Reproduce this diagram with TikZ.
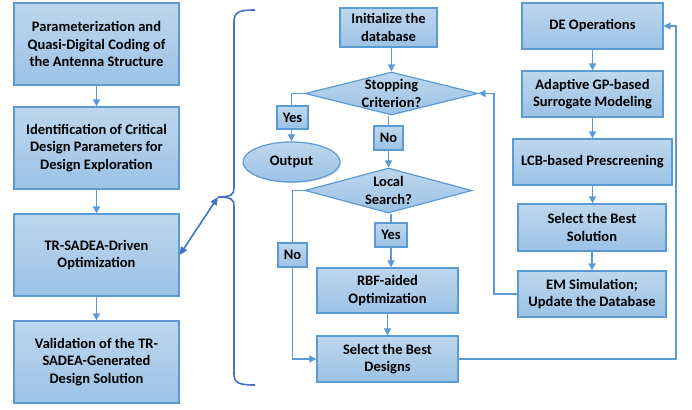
\documentclass[tikz,border=0pt]{standalone}
\usepackage{fontspec}
\setmainfont{Carlito}
\usetikzlibrary{arrows.meta,shapes.geometric,backgrounds,shadows}
\definecolor{boxtop}{HTML}{BDD7EE}
\definecolor{boxbot}{HTML}{9CC2E5}
\definecolor{boxline}{HTML}{5B9BD5}
\definecolor{conn}{HTML}{5B9BD5}
\definecolor{brace}{HTML}{4472C4}
\tikzset{
  txt/.style={font=\fontsize{14.5}{17.7}\selectfont\bfseries, text=black, align=center},
  sbox/.style={txt, draw=boxline, line width=1.2pt, top color=boxtop, bottom color=boxbot,
     inner sep=0pt, drop shadow={opacity=0.25, shadow xshift=1.2pt, shadow yshift=-1.2pt}},
  lbl/.style={sbox, drop shadow={opacity=0}},
  dia/.style={shape=diamond, draw=boxline, line width=1.2pt, top color=boxtop, bottom color=boxbot, inner sep=0pt},
  ell/.style={shape=ellipse, sbox},
  flow/.style={draw=conn, line width=1.6pt, -{Triangle[length=7pt,width=7pt]}},
  line/.style={draw=conn, line width=1.6pt},
  brc/.style={draw=brace, line width=1.6pt},
}
\begin{document}
\begin{tikzpicture}[x=1pt,y=-1pt]
\useasboundingbox (0,0) rectangle (692,409);
% left column
\node[sbox, minimum width=165pt, minimum height=82pt] (p1) at (96.5,44) {Parameterization and\\Quasi-Digital Coding of\\the Antenna Structure};
\node[sbox, minimum width=165pt, minimum height=82pt] (p2) at (96.5,148) {Identification of Critical\\Design Parameters for\\Design Exploration};
\node[sbox, minimum width=165pt, minimum height=82pt] (p3) at (96.5,255) {TR-SADEA-Driven\\Optimization};
\node[sbox, minimum width=165pt, minimum height=82pt] (p4) at (96.5,362) {Validation of the TR-\\SADEA-Generated\\Design Solution};
% middle column
\node[sbox, minimum width=97pt, minimum height=39pt] (init) at (388.5,27.5) {Initialize the\\database};
\node[dia, minimum width=173pt, minimum height=43pt, label={[txt]center:Stopping\\Criterion?}] (stop) at (391.5,93.5) {};
\node[ell, minimum width=97pt, minimum height=40pt] (out) at (291.5,162) {Output};
\node[dia, minimum width=167pt, minimum height=45pt, label={[txt]center:Local\\Search?}] (loc) at (388.5,190.5) {};
\node[sbox, minimum width=141pt, minimum height=45pt] (rbf) at (387.5,290.5) {RBF-aided\\Optimization};
\node[sbox, minimum width=141pt, minimum height=46pt] (seld) at (387.5,359) {Select the Best\\Designs};
\node[lbl, minimum width=31pt, minimum height=23pt] (yes1) at (292.5,117.5) {Yes};
\node[lbl, minimum width=29pt, minimum height=24pt] (no1) at (388.5,138) {No};
\node[lbl, minimum width=29pt, minimum height=24pt] (no2) at (292.5,255) {No};
\node[lbl, minimum width=32pt, minimum height=24pt] (yes2) at (391,235) {Yes};
% right column
\node[sbox, minimum width=141pt, minimum height=46pt] (de) at (592.5,26) {DE Operations};
\node[sbox, minimum width=141pt, minimum height=46pt] (gp) at (592.5,94) {Adaptive GP-based\\Surrogate Modeling};
\node[sbox, minimum width=159pt, minimum height=46pt] (lcb) at (592.5,162) {LCB-based Prescreening};
\node[sbox, minimum width=148pt, minimum height=47pt] (sels) at (592,227.5) {Select the Best\\Solution};
\node[sbox, minimum width=148pt, minimum height=46pt] (em) at (592,294) {EM Simulation;\\Update the Database};
\coordinate (rt) at (676,0);
\coordinate (lt) at (494,0);
\coordinate (btip) at (218,197);
\begin{pgfonlayer}{background}
\draw[flow] (p1) -- (p2);
\draw[flow] (p2) -- (p3);
\draw[flow] (p3) -- (p4);
\draw[flow] (init.south -| stop.north) -- (stop.north);
\draw[flow] (stop.west) -| (out.north);
\draw[flow] (stop.south -| no1) -- (loc.north -| no1);
\draw[flow] (loc.south -| yes2) -- (rbf.north -| yes2);
\draw[flow] (loc.west) -| (no2.north) -- (no2.south) |- (seld.west);
\draw[flow] (rbf) -- (seld);
\draw[flow] (seld.east) -| (rt |- de.east) -- (de.east);
\draw[flow] (de) -- (gp);
\draw[flow] (gp) -- (lcb);
\draw[flow] (lcb) -- (sels.north -| lcb);
\draw[flow] (sels) -- (em);
\draw[flow] (em.west) -| (lt |- stop.east) -- (stop.east);
\end{pgfonlayer}
% brace
\draw[brc] (255,10) .. controls (239,10) and (234,12) .. (234,22) -- (234,188)
  .. controls (234,194) and (232,197) .. (btip)
  .. controls (232,197) and (234,200) .. (234,206) -- (234,374)
  .. controls (234,383) and (239,385) .. (255,385);
\draw[brc, {Triangle[length=8pt,width=7pt]}-{Triangle[length=8pt,width=7pt]}] (p3.east) -- (btip);
\end{tikzpicture}
\end{document}
